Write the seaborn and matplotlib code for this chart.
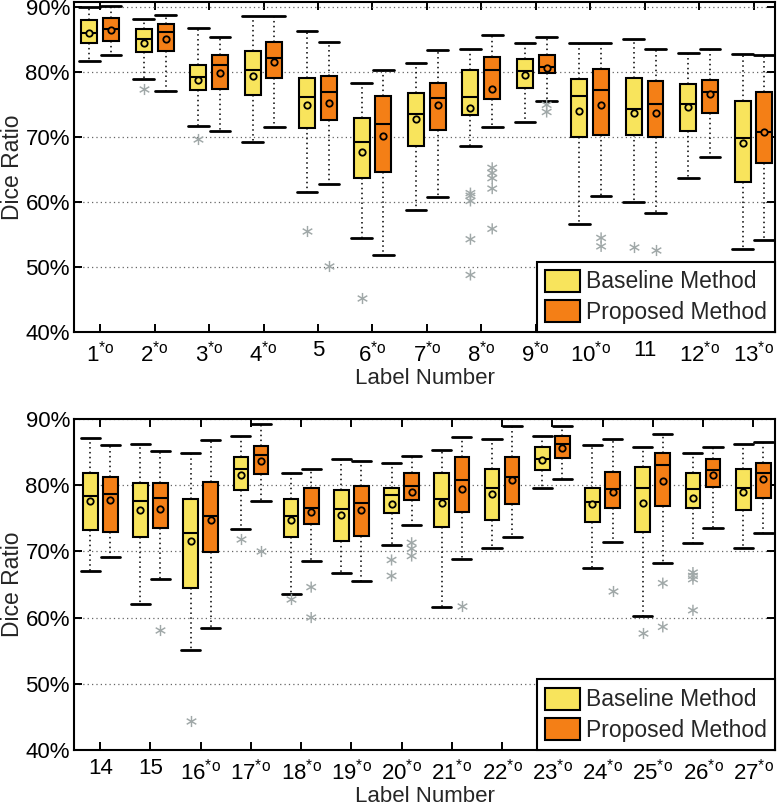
import matplotlib
matplotlib.use("Agg")
import matplotlib.pyplot as plt
import seaborn as sns
import pandas as pd

METHODS = ["Baseline Method", "Proposed Method"]
COLORS = {"Baseline Method": "#F8E45C", "Proposed Method": "#F47F16"}
FLIER_GRAY = "#A0A8A8"

# ---- top panel: labels 1-13 ----
top_labels = [str(i) for i in range(1, 14)]
top_marked = [True, True, True, True, False, True, True, True, True, True, False, True, True]

top_base_lo = [81.8, 79.0, 71.8, 69.2, 61.6, 54.5, 58.8, 68.6, 72.4, 56.6, 60.1, 63.8, 52.8]
top_base_q1 = [84.5, 83.2, 77.3, 76.5, 71.4, 63.7, 68.6, 73.4, 77.6, 70.0, 70.4, 71.0, 63.1]
top_base_med = [86.0, 85.2, 79.3, 80.4, 76.2, 69.3, 73.6, 76.2, 80.2, 76.4, 74.4, 75.1, 69.9]
top_base_q3 = [88.0, 86.7, 81.1, 83.3, 79.2, 72.9, 76.8, 80.3, 82.1, 79.0, 79.2, 78.2, 75.6]
top_base_hi = [90.0, 88.2, 86.9, 88.7, 86.3, 78.4, 81.4, 83.6, 84.6, 84.5, 85.2, 83.0, 82.8]
top_base_mean = [86.0, 84.6, 78.9, 79.4, 75.0, 67.8, 72.8, 74.5, 79.6, 74.1, 73.8, 74.6, 69.1]
top_base_fliers = [[], [77.5], [69.8], [], [55.6], [45.3], [],
                   [61.4, 61.0, 60.2, 54.3, 48.8], [], [], [53.1], [], []]

top_prop_lo = [82.7, 77.2, 71.0, 71.6, 62.8, 51.8, 60.8, 71.6, 75.6, 61.0, 58.3, 66.9, 54.2]
top_prop_q1 = [84.9, 83.3, 77.4, 79.2, 72.6, 64.6, 71.2, 75.9, 79.9, 70.4, 70.0, 73.8, 66.1]
top_prop_med = [86.7, 86.2, 81.2, 82.2, 77.0, 72.0, 76.1, 80.3, 80.9, 77.3, 75.1, 77.0, 70.8]
top_prop_q3 = [88.3, 87.5, 82.6, 84.7, 79.4, 76.4, 78.4, 82.3, 82.6, 80.5, 78.6, 78.9, 77.0]
top_prop_hi = [90.2, 88.8, 85.5, 88.7, 84.7, 80.3, 83.5, 85.7, 85.4, 84.5, 83.6, 83.6, 82.7]
top_prop_mean = [86.5, 85.1, 79.9, 81.6, 75.3, 70.2, 75.0, 77.5, 80.6, 75.0, 73.7, 76.6, 70.8]
top_prop_fliers = [[], [], [], [], [50.1], [], [],
                   [65.3, 64.5, 63.7, 62.1, 55.9], [75.0, 73.9], [54.5, 53.2], [52.7], [], []]

# ---- bottom panel: labels 14-27 ----
bot_labels = [str(i) for i in range(14, 28)]
bot_marked = [False, False] + [True] * 12

bot_base_lo = [67.1, 62.1, 55.1, 73.4, 63.6, 66.7, 71.0, 61.6, 70.5, 79.5, 67.5, 60.2, 71.3, 70.5]
bot_base_q1 = [73.2, 72.1, 64.5, 79.3, 72.1, 71.5, 75.8, 73.7, 74.7, 82.3, 74.5, 73.0, 76.6, 76.2]
bot_base_med = [78.3, 77.6, 72.7, 82.4, 75.4, 76.4, 78.5, 77.9, 79.6, 84.0, 77.4, 79.6, 79.4, 79.6]
bot_base_q3 = [81.8, 80.3, 77.9, 84.3, 77.9, 79.2, 79.5, 81.9, 82.5, 85.7, 79.5, 82.8, 81.8, 82.4]
bot_base_hi = [87.1, 86.2, 84.9, 87.5, 81.8, 83.9, 83.3, 85.3, 87.0, 87.4, 86.1, 85.8, 84.8, 86.2]
bot_base_mean = [77.6, 76.2, 71.5, 81.6, 74.8, 75.5, 77.2, 77.3, 78.6, 83.8, 77.1, 77.3, 78.1, 79.0]
bot_base_fliers = [[], [], [44.4], [71.8], [62.8], [], [68.7, 66.3], [], [], [], [], [57.6],
                   [66.8, 66.3, 65.8, 61.1], []]

bot_prop_lo = [69.2, 65.8, 58.4, 77.6, 68.6, 65.5, 74.0, 68.8, 72.2, 80.9, 71.4, 68.3, 73.6, 72.8]
bot_prop_q1 = [73.0, 73.5, 69.9, 81.7, 74.1, 72.3, 77.7, 76.0, 77.2, 84.1, 76.6, 76.9, 79.7, 78.0]
bot_prop_med = [78.6, 78.0, 75.3, 84.6, 76.6, 77.3, 79.9, 80.8, 81.3, 86.2, 79.4, 83.0, 82.3, 81.8]
bot_prop_q3 = [81.3, 80.3, 80.5, 85.9, 79.5, 79.9, 81.8, 84.2, 84.3, 87.4, 82.0, 84.8, 83.9, 83.4]
bot_prop_hi = [86.1, 85.2, 86.8, 89.2, 82.4, 83.6, 84.4, 87.2, 88.9, 88.9, 87.0, 87.8, 85.7, 86.5]
bot_prop_mean = [77.8, 76.4, 74.8, 83.6, 76.0, 76.2, 79.0, 79.4, 80.8, 85.6, 79.0, 80.6, 81.6, 81.0]
bot_prop_fliers = [[], [58.1], [], [70.1], [64.6, 60.0], [], [71.3, 70.4, 69.3], [61.8], [], [],
                   [64.0], [65.2, 58.6], [], []]


def five_number_rows(labels, method, lo, q1, med, q3, hi):
    # five-number summary per box; with whis=(0, 100) seaborn reproduces it exactly
    rows = []
    for lab, *vals in zip(labels, lo, q1, med, q3, hi):
        rows += [(lab, method, v) for v in vals]
    return rows


def point_rows(labels, method, values):
    return [(lab, method, v) for lab, v in zip(labels, values)]


def flier_rows(labels, method, fliers):
    return [(lab, method, v) for lab, vals in zip(labels, fliers) for v in vals]


def draw_panel(ax, labels, marked, base, prop, xlim, ytop):
    cols = ["label", "method", "dice"]
    boxes = pd.DataFrame(five_number_rows(labels, METHODS[0], *base[:5])
                         + five_number_rows(labels, METHODS[1], *prop[:5]), columns=cols)
    means = pd.DataFrame(point_rows(labels, METHODS[0], base[5])
                         + point_rows(labels, METHODS[1], prop[5]), columns=cols)
    fliers = pd.DataFrame(flier_rows(labels, METHODS[0], base[6])
                          + flier_rows(labels, METHODS[1], prop[6]), columns=cols)

    sns.boxplot(data=boxes, x="label", y="dice", hue="method", order=labels,
                hue_order=METHODS, palette=COLORS, saturation=1, width=0.8, gap=0.27,
                whis=(0, 100), linecolor="black", linewidth=1.5, capwidths=0.38,
                whiskerprops=dict(linestyle=(0, (1, 2.2)), linewidth=1.1),
                capprops=dict(linewidth=2.0, linestyle="-"), ax=ax)
    sns.stripplot(data=fliers, x="label", y="dice", hue="method", order=labels,
                  hue_order=METHODS, palette={m: FLIER_GRAY for m in METHODS},
                  dodge=True, jitter=False, marker="$\\ast$", size=8, linewidth=0,
                  legend=False, zorder=3, ax=ax)
    sns.stripplot(data=means, x="label", y="dice", hue="method", order=labels,
                  hue_order=METHODS, palette=COLORS, dodge=True, jitter=False,
                  marker="o", size=4.6, edgecolor="black", linewidth=1.3,
                  legend=False, zorder=4, ax=ax)

    ax.set_xlim(*xlim)
    ax.set_ylim(40, ytop)
    ax.set_yticks(range(40, 91, 10))
    ax.set_yticklabels([f"{t}%" for t in range(40, 91, 10)])
    ax.set_xticks(range(len(labels)))
    ax.set_xticklabels([lab + (r"$^{\mathregular{*o}}$" if m else "")
                        for lab, m in zip(labels, marked)])
    ax.set_axisbelow(True)
    ax.grid(axis="y", linestyle=(0, (1, 2.5)), color="#666666", linewidth=0.9)
    ax.grid(axis="x", visible=False)
    ax.tick_params(axis="both", direction="in", length=6, width=1.4,
                   top=True, right=True, labelsize=16, colors="black")
    ax.tick_params(axis="x", pad=6)
    ax.tick_params(axis="y", pad=3)
    for s in ax.spines.values():
        s.set_linewidth(1.5)
        s.set_color("black")
    ax.set_xlabel("Label Number", fontsize=16, labelpad=1)
    ax.set_ylabel("Dice Ratio", fontsize=16.5, labelpad=1)

    sns.move_legend(ax, "lower right", title="", frameon=True, fancybox=False,
                    framealpha=1, edgecolor="black", borderaxespad=0, fontsize=16.5,
                    handlelength=1.5, handleheight=1.1, handletextpad=0.3,
                    labelspacing=0.3, borderpad=0.35)
    leg = ax.get_legend()
    leg.get_frame().set_linewidth(1.5)
    for h in leg.legend_handles:
        h.set_edgecolor("black")
        h.set_linewidth(1.5)


sns.set_theme(style="ticks")
plt.rcParams["font.family"] = ["Liberation Sans", "DejaVu Sans"]

fig = plt.figure(figsize=(7.8, 8.06), dpi=100)
ax_top = fig.add_axes([0.095, 0.588, 0.899, 0.410])
ax_bot = fig.add_axes([0.095, 0.0695, 0.899, 0.4107])

draw_panel(ax_top, top_labels, top_marked,
           (top_base_lo, top_base_q1, top_base_med, top_base_q3, top_base_hi,
            top_base_mean, top_base_fliers),
           (top_prop_lo, top_prop_q1, top_prop_med, top_prop_q3, top_prop_hi,
            top_prop_mean, top_prop_fliers),
           (-0.48, 12.4), 90.9)
draw_panel(ax_bot, bot_labels, bot_marked,
           (bot_base_lo, bot_base_q1, bot_base_med, bot_base_q3, bot_base_hi,
            bot_base_mean, bot_base_fliers),
           (bot_prop_lo, bot_prop_q1, bot_prop_med, bot_prop_q3, bot_prop_hi,
            bot_prop_mean, bot_prop_fliers),
           (-0.52, 13.44), 90.0)

fig.savefig("out.png", dpi=100)
plt.close(fig)
